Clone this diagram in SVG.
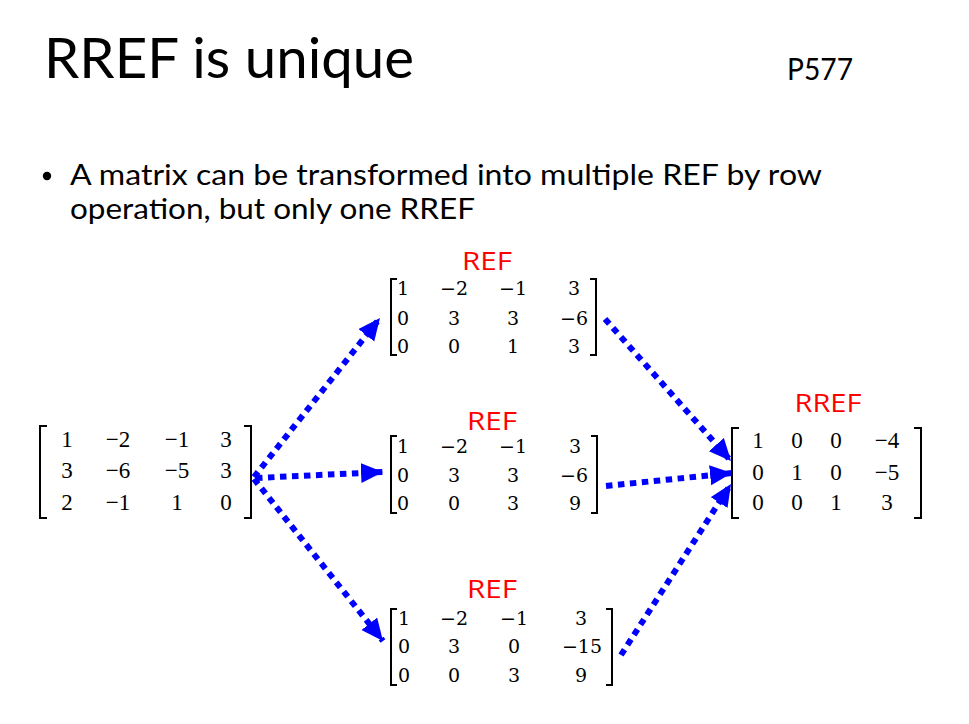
<svg xmlns="http://www.w3.org/2000/svg" width="969" height="724" viewBox="0 0 969 724">
<style>
.t{font-family:Lato,"Open Sans",sans-serif;fill:#000}
.lbl{font-family:"Open Sans","Noto Sans",sans-serif;fill:#ff0000;font-size:26px;text-anchor:middle}
.m{font-family:"Liberation Serif","Times New Roman",serif;font-size:23px;fill:#000;text-anchor:middle}
.r{font-family:"DejaVu Serif","Liberation Serif",serif;font-size:19px;fill:#000;text-anchor:middle}
.br{fill:none;stroke:#000;stroke-width:2}
.ar{fill:none;stroke:#0000ff;stroke-width:6;stroke-dasharray:6.5 5.5}
</style>
<defs>
<marker id="ah" markerUnits="userSpaceOnUse" markerWidth="24" markerHeight="22" refX="22" refY="10" orient="auto" viewBox="0 0 24 22">
<path d="M0,0 L22,10 L0,20 z" fill="#0000ff"/>
</marker>
</defs>
<rect width="969" height="724" fill="#fff"/>
<text class="t" x="44" y="78" font-size="56" textLength="370" lengthAdjust="spacingAndGlyphs">RREF is unique</text>
<text class="t" x="787" y="80" font-size="30" textLength="66" lengthAdjust="spacingAndGlyphs">P577</text>
<circle cx="47" cy="176" r="4.2" fill="#000"/>
<text class="t" x="70" y="185" font-size="28" textLength="752" lengthAdjust="spacingAndGlyphs">A matrix can be transformed into multiple REF by row</text>
<text class="t" x="70" y="219" font-size="28" textLength="405" lengthAdjust="spacingAndGlyphs">operation, but only one RREF</text>

<g id="connectors">
<line class="ar" x1="254" y1="477" x2="380" y2="318" marker-end="url(#ah)"/>
<line class="ar" x1="256" y1="478" x2="383" y2="472" marker-end="url(#ah)"/>
<line class="ar" x1="254" y1="479" x2="383" y2="641" marker-end="url(#ah)"/>
<line class="ar" x1="605" y1="319" x2="731" y2="461" marker-end="url(#ah)"/>
<line class="ar" x1="606" y1="486" x2="732" y2="473" marker-end="url(#ah)"/>
<line class="ar" x1="621" y1="655" x2="731" y2="484" marker-end="url(#ah)"/>
</g>

<g id="matrix-A">
<path class="br" d="M47,426 L40,426 L40,518 L47,518"/>
<path class="br" d="M244,426 L251,426 L251,518 L244,518"/>
<text class="m" x="67" y="447">1</text><text class="m" x="118" y="447">−2</text><text class="m" x="177" y="447">−1</text><text class="m" x="226" y="447">3</text>
<text class="m" x="67" y="478">3</text><text class="m" x="118" y="478">−6</text><text class="m" x="177" y="478">−5</text><text class="m" x="226" y="478">3</text>
<text class="m" x="67" y="510">2</text><text class="m" x="118" y="510">−1</text><text class="m" x="177" y="510">1</text><text class="m" x="226" y="510">0</text>
</g>

<g id="ref-top">
<text class="lbl" x="487" y="270" textLength="50" lengthAdjust="spacingAndGlyphs">REF</text>
<path class="br" d="M397,279 L391,279 L391,355 L397,355"/>
<path class="br" d="M590,279 L596,279 L596,355 L590,355"/>
<text class="r" x="403" y="295">1</text><text class="r" x="454" y="295">−2</text><text class="r" x="513" y="295">−1</text><text class="r" x="574" y="295">3</text>
<text class="r" x="403" y="325">0</text><text class="r" x="454" y="325">3</text><text class="r" x="513" y="325">3</text><text class="r" x="574" y="325">−6</text>
<text class="r" x="403" y="353">0</text><text class="r" x="454" y="353">0</text><text class="r" x="513" y="353">1</text><text class="r" x="574" y="353">3</text>
</g>

<g id="ref-mid">
<text class="lbl" x="492" y="430" textLength="50" lengthAdjust="spacingAndGlyphs">REF</text>
<path class="br" d="M397,436 L391,436 L391,513 L397,513"/>
<path class="br" d="M591,436 L597,436 L597,513 L591,513"/>
<text class="r" x="403" y="453">1</text><text class="r" x="454" y="453">−2</text><text class="r" x="513" y="453">−1</text><text class="r" x="575" y="453">3</text>
<text class="r" x="403" y="482">0</text><text class="r" x="454" y="482">3</text><text class="r" x="513" y="482">3</text><text class="r" x="574" y="482">−6</text>
<text class="r" x="403" y="510">0</text><text class="r" x="454" y="510">0</text><text class="r" x="513" y="510">3</text><text class="r" x="575" y="510">9</text>
</g>

<g id="ref-bottom">
<text class="lbl" x="492" y="598" textLength="50" lengthAdjust="spacingAndGlyphs">REF</text>
<path class="br" d="M397,609 L391,609 L391,685 L397,685"/>
<path class="br" d="M606,609 L612,609 L612,685 L606,685"/>
<text class="r" x="404" y="625">1</text><text class="r" x="454" y="625">−2</text><text class="r" x="514" y="625">−1</text><text class="r" x="581" y="625">3</text>
<text class="r" x="404" y="653">0</text><text class="r" x="454" y="653">3</text><text class="r" x="514" y="653">0</text><text class="r" x="582" y="653">−15</text>
<text class="r" x="404" y="682">0</text><text class="r" x="454" y="682">0</text><text class="r" x="514" y="682">3</text><text class="r" x="581" y="682">9</text>
</g>

<g id="rref">
<text class="lbl" x="828" y="412" textLength="67" lengthAdjust="spacingAndGlyphs">RREF</text>
<path class="br" d="M739,428 L732,428 L732,518 L739,518"/>
<path class="br" d="M914,428 L921,428 L921,518 L914,518"/>
<text class="m" x="758" y="448">1</text><text class="m" x="797" y="448">0</text><text class="m" x="836" y="448">0</text><text class="m" x="887" y="448">−4</text>
<text class="m" x="758" y="480">0</text><text class="m" x="797" y="480">1</text><text class="m" x="836" y="480">0</text><text class="m" x="887" y="480">−5</text>
<text class="m" x="758" y="510">0</text><text class="m" x="797" y="510">0</text><text class="m" x="836" y="510">1</text><text class="m" x="887" y="510">3</text>
</g>
</svg>
